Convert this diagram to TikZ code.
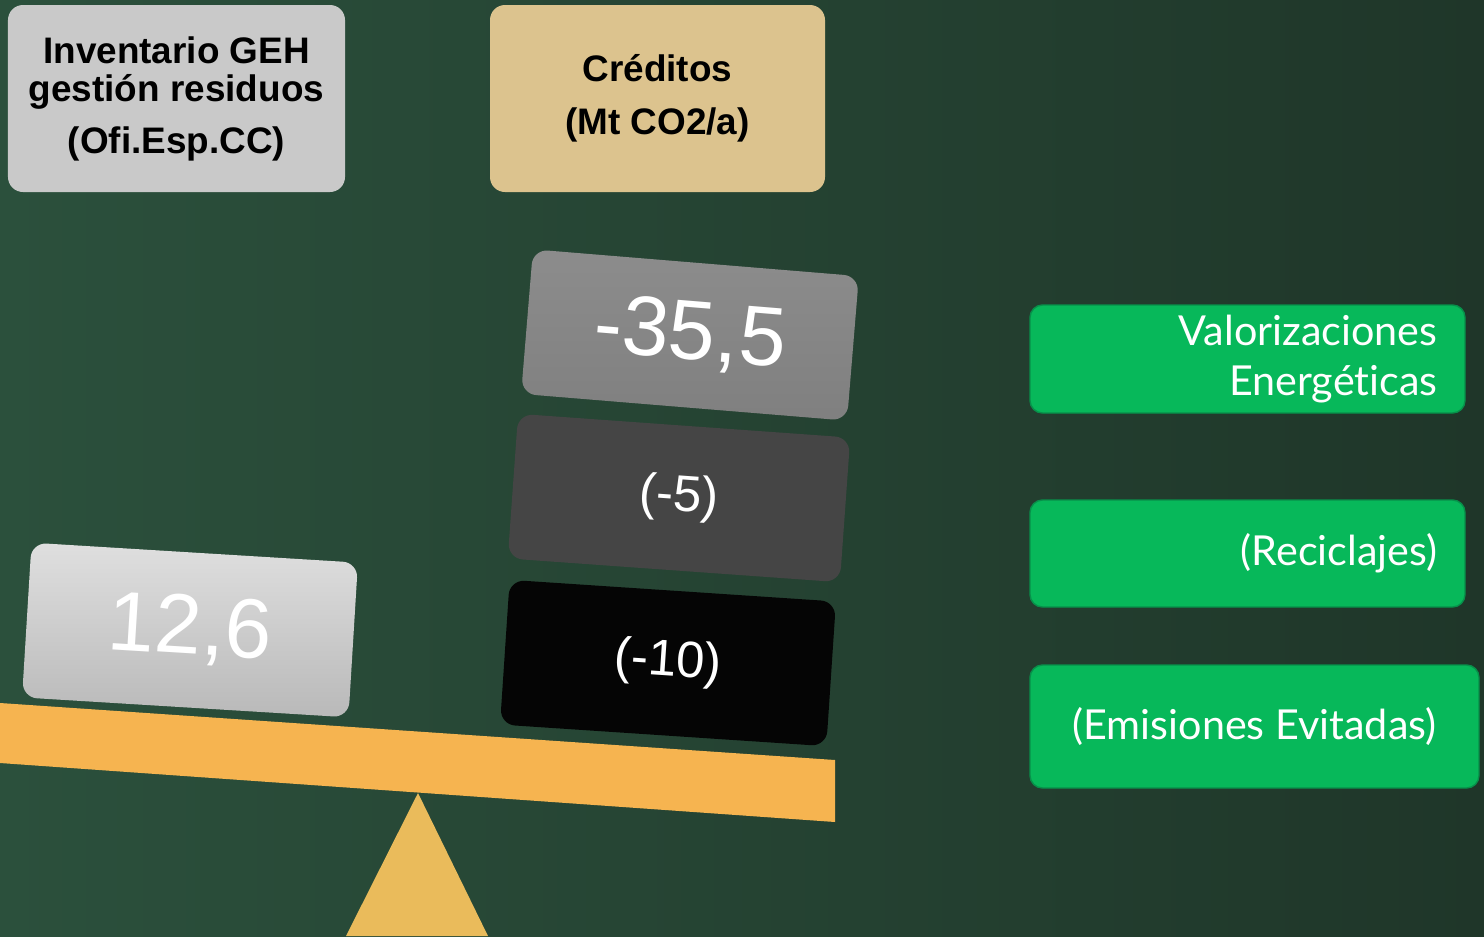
\documentclass[tikz,border=0pt]{standalone}
\usepackage{fontspec}
\setmainfont{Liberation Sans}
\newfontfamily\handfont[Ligatures=NoCommon]{Lato}
\definecolor{pizarra}{HTML}{2B503C}
\definecolor{pizarraosc}{HTML}{1F3629}
\definecolor{grisinv}{HTML}{C9C9C9}
\definecolor{beige}{HTML}{DCC38E}
\definecolor{viga}{HTML}{F6B450}
\definecolor{apoyo}{HTML}{EABB5B}
\definecolor{verdecaja}{HTML}{07B85A}
\definecolor{verdeborde}{HTML}{07904A}

\begin{document}
\begin{tikzpicture}[x=0.2mm,y=-0.2mm,
  cabecera/.style={rounded corners=3mm,minimum height=37.4mm,align=center,
    font=\bfseries\fontsize{21}{21.6}\selectfont},
  bloque/.style={rounded corners=3mm,minimum width=65.4mm,minimum height=29mm,
    text=white,font=\fontsize{48}{48}\selectfont},
  verde/.style={fill=verdecaja,draw=verdeborde,line width=0.8pt,rounded corners=2.5mm,
    text=white,font=\handfont\fontsize{23.5}{28.5}\selectfont}]
% pizarra
\shade[left color=pizarra,middle color=pizarra!85!pizarraosc,right color=pizarraosc]
  (0,0) rectangle (1484,936);

% cabeceras
\node[cabecera,fill=grisinv,minimum width=67.4mm] (inv) at (176.5,98.5)
  {Inventario GEH\\gestión residuos\\[8pt](Ofi.Esp.CC)};
\node[cabecera,fill=beige,minimum width=67mm,
  font=\bfseries\fontsize{21}{30}\selectfont] (cred) at (657.5,98.5)
  {Créditos\\(Mt CO2/a)};

% balanza
\fill[apoyo] (418,793) -- (488,936) -- (346,936) -- cycle;
\fill[viga] (0,703) -- (835,760) -- (835,822) -- (0,763) -- cycle;

% bloques
\node[bloque,top color=gray!25,bottom color=gray!55,minimum height=31mm,rotate=-3.5] (emis) at (190,630) {12,6};
\node[bloque,top color=gray!90,bottom color=gray!100,rotate=-4.7] (total) at (690,335) {-35,5};
\node[bloque,fill=black!73,minimum width=66.6mm,rotate=-4.1,
  font=\fontsize{29}{29}\selectfont] (recbl) at (679,498) {(-5)};
\node[bloque,fill=black!98,rotate=-3.8,
  font=\fontsize{29}{29}\selectfont] (evbl) at (668,663) {(-10)};

% conceptos
\node[verde,minimum width=87mm,minimum height=21.6mm,text width=76mm,align=right]
  (valor) at (1247.5,359) {Valorizaciones\\Energéticas};
\node[verde,minimum width=87mm,minimum height=21.4mm,text width=76mm,align=right]
  (recic) at (1247.5,553.5) {(Reciclajes)};
\node[verde,minimum width=89.8mm,minimum height=24.6mm,align=center]
  (evit) at (1254.5,726.5) {(Emisiones Evitadas)};
\end{tikzpicture}
\end{document}
